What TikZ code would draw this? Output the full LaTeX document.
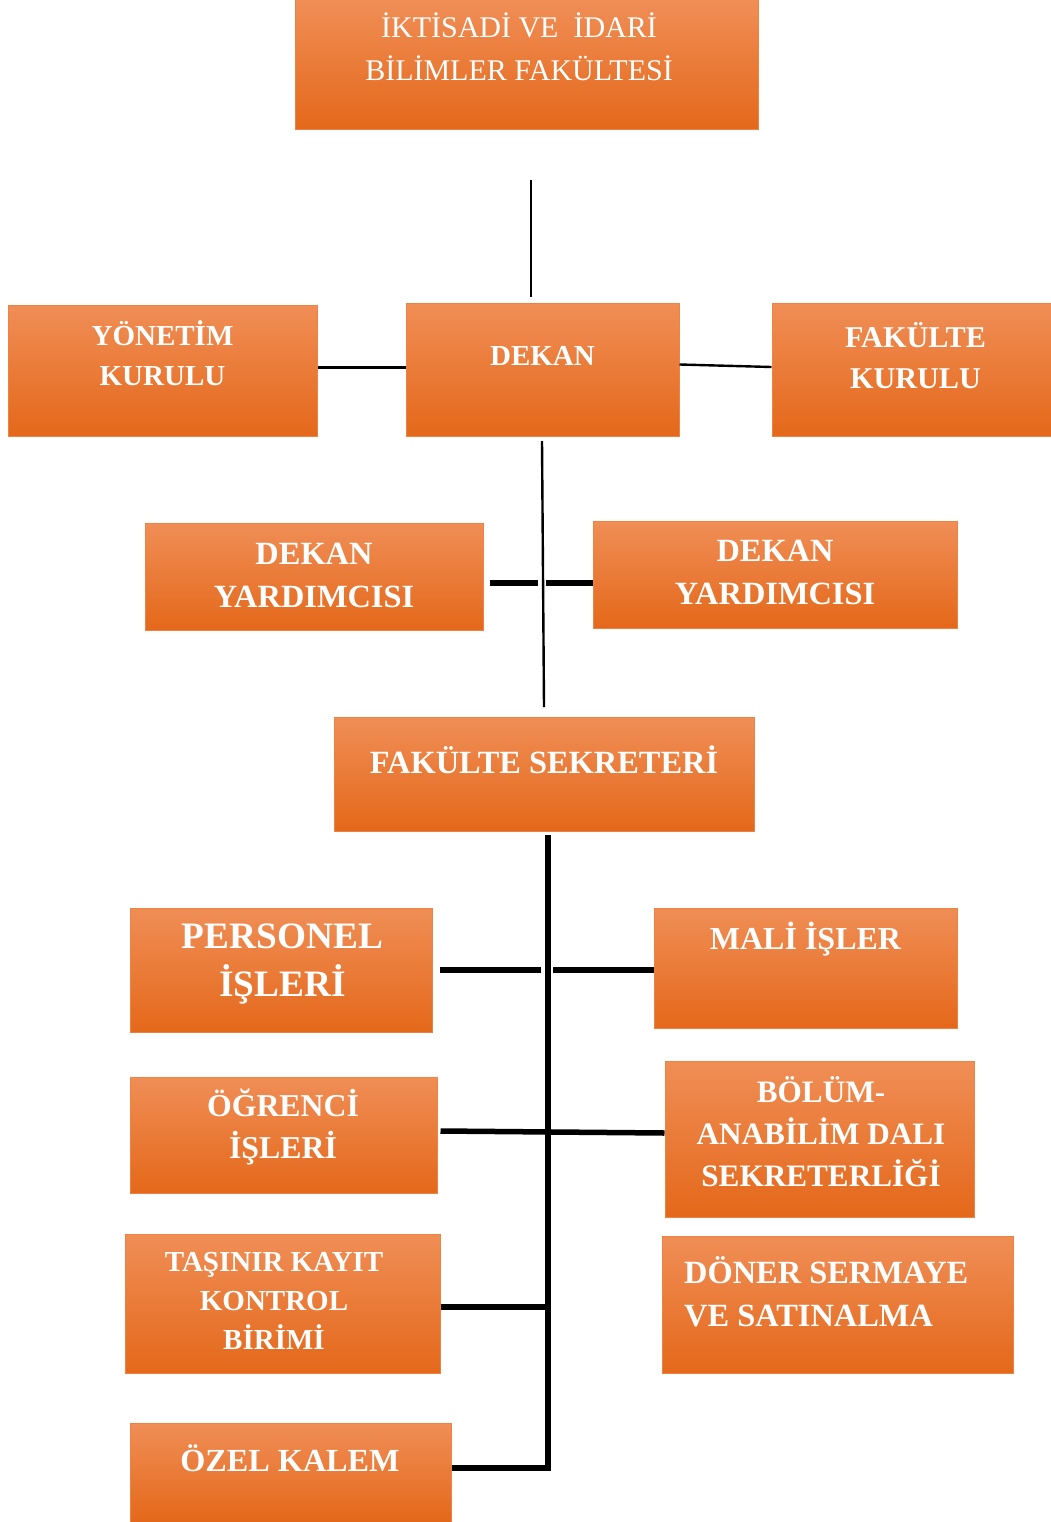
\documentclass[tikz,border=0pt]{standalone}
\usepackage{fontspec}
\setmainfont{Liberation Serif}
\usetikzlibrary{positioning}
\definecolor{ortop}{RGB}{240,142,86}
\definecolor{ormid}{RGB}{242,124,42}
\definecolor{orbot}{RGB}{228,104,26}
\definecolor{oredge}{RGB}{238,130,66}
\begin{document}
\begin{tikzpicture}[x=1pt,y=-1pt,
    unit/.style={draw=oredge, line width=1pt, top color=ortop, middle color=ormid, bottom color=orbot, inner sep=0pt},
    lbl/.style 2 args={text=white, align=center, inner sep=0pt, font=\bfseries\fontsize{#1}{#2}\selectfont},
    link/.style={line width=2.4pt},
    bar/.style={line width=5.5pt}]
  \useasboundingbox (0,0) rectangle (1051,1522);

  % boxes
  \node[unit, minimum width=463pt, minimum height=130pt] (fak) at (526.5,65) {};
  \node[unit, minimum width=309pt, minimum height=131pt] (yon) at (162.5,370.5) {};
  \node[unit, minimum width=273pt, minimum height=133pt] (dekan) at (542.5,369.5) {};
  \node[unit, minimum width=279pt, minimum height=133pt] (kurul) at (911.5,369.5) {};
  \node[unit, minimum width=338pt, minimum height=107pt] (yard1) at (314,576.5) {};
  \node[unit, minimum width=364pt, minimum height=107pt] (yard2) at (775,574.5) {};
  \node[unit, minimum width=420pt, minimum height=114pt] (sekr) at (544,774) {};
  \node[unit, minimum width=302pt, minimum height=124pt] (pers) at (281,970) {};
  \node[unit, minimum width=303pt, minimum height=120pt] (mali) at (805.5,968) {};
  \node[unit, minimum width=307pt, minimum height=116pt] (ogr) at (283.5,1135) {};
  \node[unit, minimum width=309pt, minimum height=156pt] (bolum) at (819.5,1139) {};
  \node[unit, minimum width=315pt, minimum height=139pt] (tasinir) at (282.5,1303.5) {};
  \node[unit, minimum width=351pt, minimum height=137pt] (doner) at (837.5,1304.5) {};
  \node[unit, minimum width=321pt, minimum height=99pt] (ozel) at (290.5,1472.5) {};

  % texts
  \node[lbl={30}{43}, font=\mdseries\fontsize{30}{43}\selectfont] (fakT) at (519,46.5) {İKTİSADİ VE~~İDARİ\\BİLİMLER FAKÜLTESİ};
  \node[lbl={29}{40}] (yonT) at (162.5,353) {YÖNETİM\\KURULU};
  \node[lbl={29}{40}] (dekanT) at (542.5,356) {DEKAN};
  \node[lbl={30.2}{41}] (kurulT) at (915.5,355.5) {FAKÜLTE\\KURULU};
  \node[lbl={32.4}{43}] (yard1T) at (314,575.5) {DEKAN\\YARDIMCISI};
  \node[lbl={32.4}{43}] (yard2T) at (775,572.5) {DEKAN\\YARDIMCISI};
  \node[lbl={32.4}{43}] (sekrT) at (544,760) {FAKÜLTE SEKRETERİ};
  \node[lbl={37.3}{48}] (persT) at (282.5,964) {PERSONEL\\İŞLERİ};
  \node[lbl={32}{43}] (maliT) at (805.5,939) {MALİ İŞLER};
  \node[lbl={31.8}{42}] (ogrT) at (283,1127) {ÖĞRENCİ\\İŞLERİ};
  \node[lbl={31.2}{42}] (bolumT) at (821,1132) {BÖLÜM-\\ANABİLİM DALI\\SEKRETERLİĞİ};
  \node[lbl={29}{39}] (tasT) at (274,1300.5) {TAŞINIR KAYIT\\KONTROL\\BİRİMİ};
  \node[lbl={32.4}{43}, align=left, anchor=west] (donerT) at (684,1291.5) {DÖNER SERMAYE\\VE SATINALMA};
  \node[lbl={32.2}{43}] (ozelT) at (290,1458) {ÖZEL KALEM};

  % free ends
  \coordinate (t1) at (531,180);
  \coordinate (t2) at (531,297);
  \coordinate (d1) at (542,441);
  \coordinate (d2) at (544,707);
  \coordinate (g1) at (538,583);
  \coordinate (g2) at (546,583);
  \coordinate (s1) at (548,835);
  \coordinate (s2) at (548,1468);
  \coordinate (p1) at (541,970);
  \coordinate (p2) at (553,970);

  % thin links
  \draw[link] (t1) -- (t2);
  \draw[link] ([yshift=3pt]yon.east) -- ([yshift=3pt]yon.east -| dekan.west);
  \draw[link] ([yshift=5pt]dekan.east) -- ([yshift=2.5pt]kurul.west);
  \draw[link] (d1) -- (d2);

  % thick links
  \draw[bar] ([xshift=6pt,yshift=-6.5pt]yard1.east) -- (g1);
  \draw[bar] (g2) -- (g2 -| yard2.west);
  \draw[bar, line join=miter] (s1) -- (s2) -- (s2 -| ozel.east);
  \draw[bar] ([xshift=7pt]pers.east) -- (p1);
  \draw[bar] (p2) -- (p2 -| mali.west);
  \draw[bar] ([xshift=3pt,yshift=4pt]ogr.east) -- ([yshift=6pt]bolum.west);
  \draw[bar] ([yshift=-3.5pt]tasinir.east) -- ([yshift=-3.5pt]tasinir.east -| s1);
\end{tikzpicture}
\end{document}
